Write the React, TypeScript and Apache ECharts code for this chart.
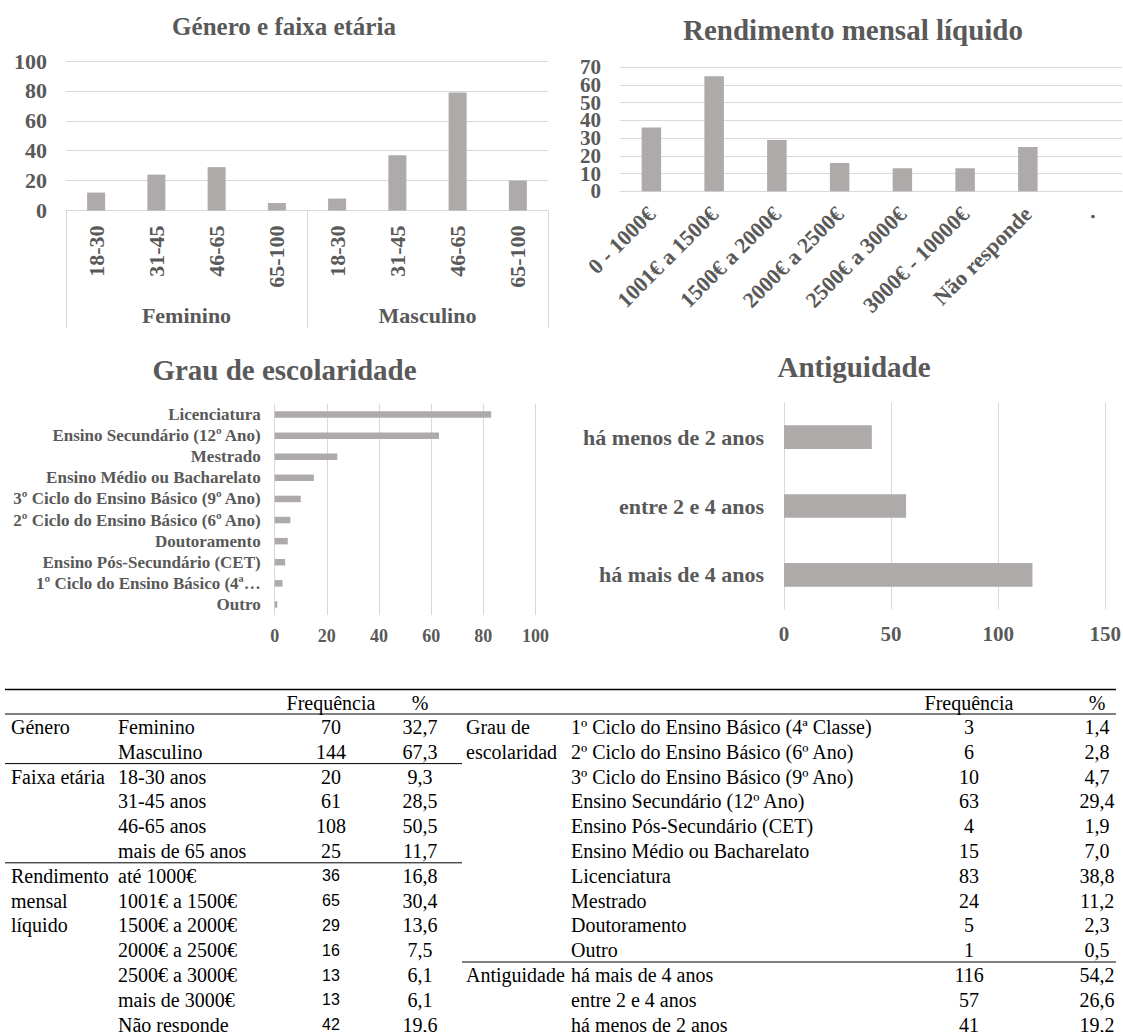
import React, { useEffect, useRef } from 'react';
import * as echarts from 'echarts';

const SERIF = '"Liberation Serif", "Times New Roman", Times, serif';
const SANS = '"Liberation Sans", Arial, sans-serif';
const TXT = '#595959';
const GRIDC = '#d9d9d9';
const BARC = '#aeaaaa';

// ---------- Chart data ----------
const GENDERS = ['Feminino', 'Masculino'];
const AGE_GROUPS = ['18-30', '31-45', '46-65', '65-100'];
const FEM_BY_AGE = [12, 24, 29, 5];
const MASC_BY_AGE = [8, 37, 79, 20];

const INCOME_CATS = ['0 - 1000€', '1001€ a 1500€', '1500€ a 2000€', '2000€ a 2500€', '2500€ a 3000€', '3000€ - 10000€', 'Não responde', '.'];
const INCOME_VALUES: (number | null)[] = [36, 65, 29, 16, 13, 13, 25, null];

const ESC_CHART_CATS = [
  'Licenciatura',
  'Ensino Secundário (12º Ano)',
  'Mestrado',
  'Ensino Médio ou Bacharelato',
  '3º Ciclo do Ensino Básico (9º Ano)',
  '2º Ciclo do Ensino Básico (6º Ano)',
  'Doutoramento',
  'Ensino Pós-Secundário (CET)',
  '1º Ciclo do Ensino Básico (4ª Classe)',
  'Outro',
];
const ESC_CHART_VALUES = [83, 63, 24, 15, 10, 6, 5, 4, 3, 1];

// ---------- Table data ----------
const GENERO_CATS = ['Feminino', 'Masculino'];
const GENERO_FREQ = [70, 144];
const GENERO_PCT = [32.7, 67.3];

const FAIXA_CATS = ['18-30 anos', '31-45 anos', '46-65 anos', 'mais de 65 anos'];
const FAIXA_FREQ = [20, 61, 108, 25];
const FAIXA_PCT = [9.3, 28.5, 50.5, 11.7];

const REND_CATS = ['até 1000€', '1001€ a 1500€', '1500€ a 2000€', '2000€ a 2500€', '2500€ a 3000€', 'mais de 3000€', 'Não responde'];
const REND_FREQ = [36, 65, 29, 16, 13, 13, 42];
const REND_PCT = [16.8, 30.4, 13.6, 7.5, 6.1, 6.1, 19.6];

const ESC_CATS = [
  '1º Ciclo do Ensino Básico (4ª Classe)',
  '2º Ciclo do Ensino Básico (6º Ano)',
  '3º Ciclo do Ensino Básico (9º Ano)',
  'Ensino Secundário (12º Ano)',
  'Ensino Pós-Secundário (CET)',
  'Ensino Médio ou Bacharelato',
  'Licenciatura',
  'Mestrado',
  'Doutoramento',
  'Outro',
];
const ESC_FREQ = [3, 6, 10, 63, 4, 15, 83, 24, 5, 1];
const ESC_PCT = [1.4, 2.8, 4.7, 29.4, 1.9, 7.0, 38.8, 11.2, 2.3, 0.5];

const ANT_CATS = ['há mais de 4 anos', 'entre 2 e 4 anos', 'há menos de 2 anos'];
const ANT_FREQ = [116, 57, 41];
const ANT_PCT = [54.2, 26.6, 19.2];

const TABLE_HEAD = ['Frequência', '%'];

type Group = { labels: string[]; cats: string[]; freq: number[]; pct: number[]; sans?: boolean; clipW?: number };

const LEFT_GROUPS: Group[] = [
  { labels: ['Género'], cats: GENERO_CATS, freq: GENERO_FREQ, pct: GENERO_PCT },
  { labels: ['Faixa etária'], cats: FAIXA_CATS, freq: FAIXA_FREQ, pct: FAIXA_PCT },
  { labels: ['Rendimento', 'mensal', 'líquido'], cats: REND_CATS, freq: REND_FREQ, pct: REND_PCT, sans: true },
];
const RIGHT_GROUPS: Group[] = [
  { labels: ['Grau de', 'escolaridade'], cats: ESC_CATS, freq: ESC_FREQ, pct: ESC_PCT, clipW: 95 },
  { labels: ['Antiguidade'], cats: ANT_CATS, freq: ANT_FREQ, pct: ANT_PCT },
];

const fmtPct = (v: number) => v.toFixed(1).replace('.', ',');

function buildTable(): any[] {
  const els: any[] = [];
  const TOP = 689.5;
  const HEAD_BOTTOM = 714;
  const ROW_H = 24.8;
  const rowY = (i: number) => HEAD_BOTTOM + ROW_H * i + 13;
  const FS = 20;
  const serifText = (text: string, x: number, y: number, align: string, extra: any = {}) => ({
    type: 'text',
    x,
    y,
    silent: true,
    style: { text, fontFamily: SERIF, fontSize: FS, fill: '#000', align, verticalAlign: 'middle', ...extra },
  });
  const line = (x1: number, y: number, x2: number, w = 1) => ({
    type: 'line',
    silent: true,
    shape: { x1, y1: y, x2, y2: y },
    style: { stroke: '#000', lineWidth: w },
  });

  els.push(line(5, TOP, 1116, 1.4));
  els.push(line(5, HEAD_BOTTOM, 1116, 1.2));

  const blocks = [
    { groups: LEFT_GROUPS, xA: 11, xB: 118, xC: 331, xD: 420, l1: 5, l2: 462 },
    { groups: RIGHT_GROUPS, xA: 466, xB: 571, xC: 969, xD: 1097, l1: 462, l2: 1116 },
  ];
  blocks.forEach((b) => {
    els.push(serifText(TABLE_HEAD[0], b.xC, 703, 'center'));
    els.push(serifText(TABLE_HEAD[1], b.xD, 703, 'center'));
    let r = 0;
    b.groups.forEach((g, gi) => {
      g.labels.forEach((lab, li) => {
        const extra = g.clipW && li === g.labels.length - 1 ? { width: g.clipW, overflow: 'truncate', ellipsis: '' } : {};
        els.push(serifText(lab, b.xA, rowY(r + li), 'left', extra));
      });
      g.cats.forEach((c, ci) => {
        const y = rowY(r + ci);
        els.push(serifText(c, b.xB, y, 'left'));
        if (g.sans) {
          els.push({
            type: 'text', x: b.xC, y, silent: true,
            style: { text: String(g.freq[ci]), fontFamily: SANS, fontSize: 16, fill: '#000', align: 'center', verticalAlign: 'middle' },
          });
        } else {
          els.push(serifText(String(g.freq[ci]), b.xC, y, 'center'));
        }
        els.push(serifText(fmtPct(g.pct[ci]), b.xD, y, 'center'));
      });
      r += g.cats.length;
      if (gi < b.groups.length - 1) {
        els.push(line(b.l1, HEAD_BOTTOM + ROW_H * r, b.l2, 1));
      }
    });
  });
  return els;
}

function buildOption(): any {
  const lab = { fontFamily: SERIF, fontWeight: 'bold', color: TXT };
  const titleEl = (text: string, x: number, y: number, size: number) => ({
    type: 'text', x, y, silent: true,
    style: { text, fontFamily: SERIF, fontWeight: 'bold', fontSize: size, fill: TXT, align: 'center', verticalAlign: 'middle' },
  });
  const ageKeys = GENDERS.flatMap((g) => AGE_GROUPS.map((a) => g + '|' + a));
  const ageValues = [...FEM_BY_AGE, ...MASC_BY_AGE];

  // chart 2 value axis is split into two overlaid axes (even / odd ticks) so that
  // all of the tightly packed tick labels stay visible, as in the reference
  const incomeAxis = (even: boolean) => ({
    gridIndex: 1, type: 'value', min: 0, max: 70, interval: 10, position: 'left',
    axisLine: { show: false }, axisTick: { show: false },
    splitLine: { show: even, lineStyle: { color: GRIDC } },
    axisLabel: {
      ...lab, fontSize: 21, margin: 19, showMinLabel: true, showMaxLabel: true,
      formatter: (v: number) => ((Math.round(v / 10) % 2 === 0) === even ? String(v) : ''),
    },
  });

  return {
    animation: false,
    backgroundColor: '#ffffff',
    grid: [
      { left: 66, top: 61, width: 482, height: 149.5, outerBoundsMode: 'none' },
      { left: 620, top: 67.3, width: 502, height: 124, outerBoundsMode: 'none' },
      { left: 274.7, top: 404, width: 260.8, height: 211, outerBoundsMode: 'none' },
      { left: 784, top: 402.7, width: 321.3, height: 206.6, outerBoundsMode: 'none' },
    ],
    xAxis: [
      {
        gridIndex: 0, type: 'category', data: ageKeys,
        axisLine: { lineStyle: { color: GRIDC } }, axisTick: { show: false }, splitLine: { show: false },
        axisLabel: { ...lab, fontSize: 22, rotate: 90, margin: 15, interval: 0, formatter: (v: string) => v.split('|')[1] },
      },
      {
        gridIndex: 0, type: 'category', data: GENDERS, position: 'bottom',
        axisLine: { show: false }, splitLine: { show: false },
        axisTick: { show: true, length: 118, interval: 0, lineStyle: { color: GRIDC } },
        axisLabel: { ...lab, fontSize: 22, margin: 94, interval: 0 },
      },
      {
        gridIndex: 1, type: 'category', data: INCOME_CATS,
        axisLine: { lineStyle: { color: GRIDC } }, axisTick: { show: false }, splitLine: { show: false },
        axisLabel: { ...lab, fontSize: 22, rotate: 45, margin: 19, interval: 0 },
      },
      {
        gridIndex: 2, type: 'value', min: 0, max: 100, interval: 20,
        axisLine: { show: false }, axisTick: { show: false },
        splitLine: { lineStyle: { color: GRIDC } },
        axisLabel: { ...lab, fontSize: 18, margin: 12 },
      },
      {
        gridIndex: 3, type: 'value', min: 0, max: 150, interval: 50,
        axisLine: { show: false }, axisTick: { show: false },
        splitLine: { lineStyle: { color: GRIDC } },
        axisLabel: { ...lab, fontSize: 21, margin: 14 },
      },
    ],
    yAxis: [
      {
        gridIndex: 0, type: 'value', min: 0, max: 100, interval: 20,
        axisLine: { show: false }, axisTick: { show: false },
        splitLine: { lineStyle: { color: GRIDC } },
        axisLabel: { ...lab, fontSize: 22, margin: 19 },
      },
      incomeAxis(true),
      {
        gridIndex: 2, type: 'category', data: ESC_CHART_CATS, inverse: true,
        axisLine: { show: false }, axisTick: { show: false },
        axisLabel: { ...lab, fontSize: 17, margin: 14, interval: 0, formatter: (v: string) => v.replace(' Classe)', '…') },
      },
      {
        gridIndex: 3, type: 'category', data: ANT_CATS,
        axisLine: { show: false }, axisTick: { show: false },
        axisLabel: { ...lab, fontSize: 22, margin: 20 },
      },
      incomeAxis(false),
    ],
    series: [
      { type: 'bar', xAxisIndex: 0, yAxisIndex: 0, data: ageValues, barWidth: 18, itemStyle: { color: BARC }, silent: true },
      { type: 'bar', xAxisIndex: 2, yAxisIndex: 1, data: INCOME_VALUES, barWidth: 19.5, itemStyle: { color: BARC }, silent: true },
      { type: 'bar', xAxisIndex: 3, yAxisIndex: 2, data: ESC_CHART_VALUES, barWidth: 6.5, itemStyle: { color: BARC }, silent: true },
      { type: 'bar', xAxisIndex: 4, yAxisIndex: 3, data: ANT_FREQ, barWidth: 23.7, itemStyle: { color: BARC }, silent: true },
    ],
    graphic: [
      titleEl('Género e faixa etária', 284, 26, 25),
      titleEl('Rendimento mensal líquido', 853, 30, 29),
      titleEl('Grau de escolaridade', 284.5, 369.5, 29),
      titleEl('Antiguidade', 854, 367, 29),
      ...buildTable(),
    ],
  };
}

export default function App() {
  const ref = useRef<HTMLDivElement>(null);
  useEffect(() => {
    if (!ref.current) return;
    const chart = echarts.init(ref.current, null, { renderer: 'svg' });
    chart.setOption(buildOption());
    return () => chart.dispose();
  }, []);
  return (
    <div
      ref={ref}
      style={{ position: 'absolute', left: 0, top: 0, width: 1123, height: 1032, background: '#ffffff' }}
    />
  );
}
